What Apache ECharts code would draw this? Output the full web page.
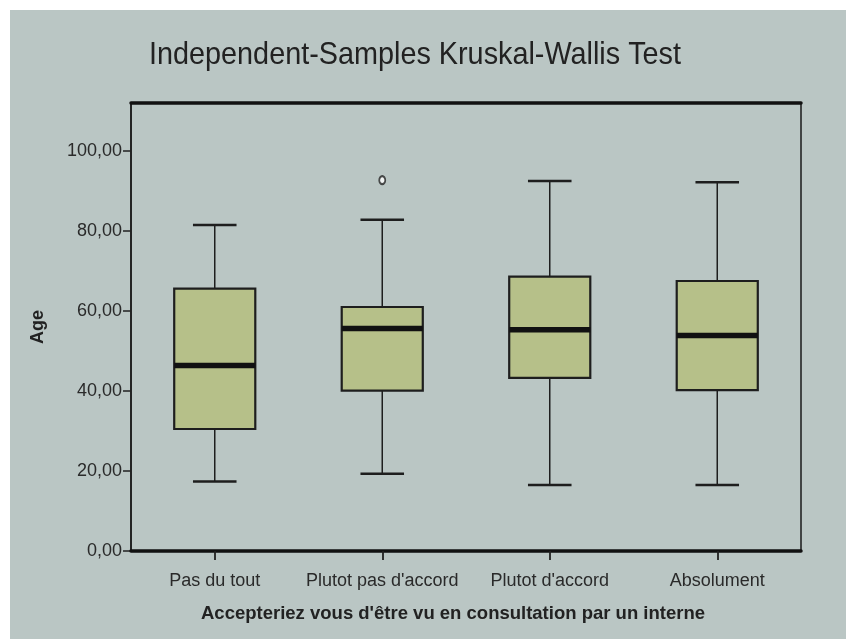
<!DOCTYPE html>
<html>
<head>
    <meta charset="UTF-8">
    <title>Kruskal-Wallis</title>
    <script src="https://cdn.jsdelivr.net/npm/echarts@6/dist/echarts.min.js"></script>
    <style>
        body { margin: 0; background: #fff; }
        #main { position: absolute; left: 10px; top: 10px; width: 836px; height: 629px; background: #bac6c4; }
    </style>
</head>
<body>
    <div id="main"></div>
    <script type="text/javascript">
        // valeurs
        var categories = ['Pas du tout', "Plutot pas d'accord", "Plutot d'accord", 'Absolument'];
        var lowData = [17.4, 19.3, 16.5, 16.5];
        var q1Data = [30.5, 40.1, 43.3, 40.2];
        var medianData = [46.4, 55.6, 55.3, 53.9];
        var q3Data = [65.6, 61.0, 68.6, 67.5];
        var highData = [81.5, 82.8, 92.5, 92.2];
        var outliers = [[1, 92.7]];
        var yTicks = [0, 20, 40, 60, 80, 100];

        var sans = "'Liberation Sans', Arial, sans-serif";
        var ink = '#222';

        var boxData = [];
        for (var i = 0; i < categories.length; i++) {
            boxData.push([i, lowData[i], q1Data[i], medianData[i], q3Data[i], highData[i]]);
        }

        function fmt(v) { return v.toFixed(2).replace('.', ','); }

        var myChart = echarts.init(document.getElementById('main'));

        var option = {
            animation: false,
            graphic: [{
                type: 'text',
                x: 405,
                y: 29,
                scaleX: 0.9,
                style: {
                    text: 'Independent-Samples Kruskal-Wallis Test',
                    font: 'normal 32px ' + sans,
                    fill: ink,
                    align: 'center',
                    verticalAlign: 'top'
                }
            }],
            grid: {
                left: 121, right: 45, top: 93, bottom: 88,
                show: true, borderColor: '#1a1a1a', borderWidth: 1.5, backgroundColor: 'transparent'
            },
            xAxis: [{
                type: 'category',
                data: categories,
                position: 'bottom',
                name: "Accepteriez vous d'être vu en consultation par un interne",
                nameLocation: 'middle',
                nameGap: 53,
                nameTextStyle: { fontFamily: sans, fontSize: 18.5, fontWeight: 'bold', color: ink, padding: [0, 26, 0, 0] },
                axisLine: { lineStyle: { color: '#111', width: 3.5 } },
                axisTick: { show: true, alignWithLabel: true, interval: 0, inside: false, length: 9, lineStyle: { color: '#222', width: 1.8 } },
                axisLabel: { interval: 0, fontFamily: sans, fontSize: 18, color: '#2a2a2a', margin: 21 },
                splitLine: { show: false },
                z: 5
            }, {
                type: 'category',
                data: categories,
                position: 'top',
                axisLine: { lineStyle: { color: '#111', width: 3.5 } },
                axisTick: { show: false },
                axisLabel: { show: false }
            }],
            yAxis: {
                type: 'value',
                min: 0,
                max: 112,
                interval: 20,
                name: 'Age',
                nameLocation: 'middle',
                nameGap: 84,
                nameTextStyle: { fontFamily: sans, fontSize: 18, fontWeight: 'bold', color: ink },
                axisLine: { show: true, lineStyle: { color: '#1a1a1a', width: 1.5 } },
                axisTick: { show: true, length: 8, lineStyle: { color: '#222', width: 1.5 } },
                axisLabel: {
                    fontFamily: sans, fontSize: 18, color: '#2a2a2a', margin: 9,
                    showMaxLabel: false,
                    formatter: function (v) { return yTicks.indexOf(v) >= 0 ? fmt(v) : ''; }
                },
                splitLine: { show: false }
            },
            series: [{
                type: 'custom',
                data: boxData,
                encode: { x: 0, y: [1, 2, 3, 4, 5] },
                renderItem: function (params, api) {
                    var idx = api.value(0);
                    var pLow = api.coord([idx, api.value(1)]);
                    var pQ1 = api.coord([idx, api.value(2)]);
                    var pMed = api.coord([idx, api.value(3)]);
                    var pQ3 = api.coord([idx, api.value(4)]);
                    var pHigh = api.coord([idx, api.value(5)]);
                    var band = api.size([1, 0])[0];
                    var halfBox = band * 0.242;
                    var halfCap = band * 0.13;
                    var x = pQ1[0];
                    var line = { stroke: '#1e1e1e', lineWidth: 1.5 };
                    return {
                        type: 'group',
                        children: [
                            { type: 'line', shape: { x1: x, y1: pHigh[1], x2: x, y2: pQ3[1] }, style: line },
                            { type: 'line', shape: { x1: x, y1: pQ1[1], x2: x, y2: pLow[1] }, style: line },
                            { type: 'line', shape: { x1: x - halfCap, y1: pHigh[1], x2: x + halfCap, y2: pHigh[1] }, style: { stroke: '#1e1e1e', lineWidth: 2.5 } },
                            { type: 'line', shape: { x1: x - halfCap, y1: pLow[1], x2: x + halfCap, y2: pLow[1] }, style: { stroke: '#1e1e1e', lineWidth: 2.5 } },
                            {
                                type: 'rect',
                                shape: { x: x - halfBox, y: pQ3[1], width: halfBox * 2, height: pQ1[1] - pQ3[1] },
                                style: { fill: '#b6c089', stroke: '#1e1e1e', lineWidth: 2.2 }
                            },
                            { type: 'line', shape: { x1: x - halfBox, y1: pMed[1], x2: x + halfBox, y2: pMed[1] }, style: { stroke: '#111', lineWidth: 5.5 } }
                        ]
                    };
                }
            }, {
                type: 'scatter',
                data: outliers,
                symbol: 'emptyCircle',
                symbolSize: [6, 8],
                itemStyle: { color: '#222', borderColor: '#222', borderWidth: 1.5 }
            }]
        };

        myChart.setOption(option);
    </script>
</body>
</html>
